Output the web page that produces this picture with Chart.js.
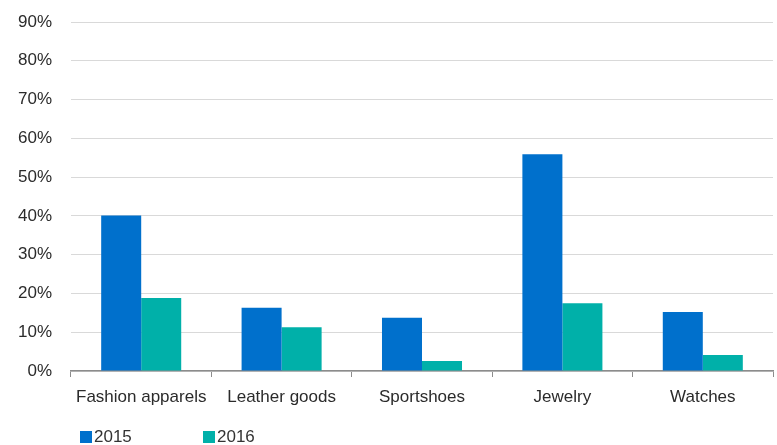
<!DOCTYPE html>
<html>
<head>
<meta charset="utf-8">
<script src="https://cdn.jsdelivr.net/npm/chart.js@4/dist/chart.umd.min.js"></script>
<style>
  html, body { margin: 0; padding: 0; background: #fff; }
  #wrap { position: relative; width: 777px; height: 445px; }
  #legend { position: absolute; left: 80px; top: 428px; font: 17px "Liberation Sans", Arial, sans-serif; color: #333; }
  #legend span.item { position: absolute; white-space: nowrap; line-height: 17px; }
  #legend i { display: inline-block; width: 12px; height: 12px; margin-right: 2px; vertical-align: -1px; }
</style>
</head>
<body>
<div id="wrap">
  <canvas id="chart" width="777" height="445"></canvas>
  <div id="legend"></div>
</div>
<script>
const categories = ["Fashion apparels", "Leather goods", "Sportshoes", "Jewelry", "Watches"];
const seriesNames = ["2015", "2016"];
const values2015 = [40.1, 16.3, 13.7, 55.9, 15.2];
const values2016 = [18.8, 11.3, 2.6, 17.5, 4.1];
const yTicks = [0, 10, 20, 30, 40, 50, 60, 70, 80, 90];
const colors = ["#0070CC", "#00B0A9"];

const font = { family: '"Liberation Sans", Arial, sans-serif', size: 17 };

const ctx = document.getElementById('chart').getContext("2d");
const chart = new Chart(ctx, {
    type: 'bar',
    data: {
        labels: categories,
        datasets: [
            { label: seriesNames[0], data: values2015, backgroundColor: colors[0] },
            { label: seriesNames[1], data: values2016, backgroundColor: colors[1] }
        ]
    },
    options: {
        responsive: false,
        animation: false,
        layout: { padding: { top: 22, right: 4, left: 0, bottom: 0 } },
        datasets: { bar: { categoryPercentage: 0.57, barPercentage: 1.0, borderWidth: 0 } },
        plugins: {
            legend: { display: false },
            tooltip: { enabled: false }
        },
        scales: {
            x: {
                grid: { drawOnChartArea: false, drawTicks: true, tickLength: 6, color: "#8c8c8c", offset: true },
                border: { color: "#8c8c8c", width: 1.5 },
                ticks: { font: font, color: "#2b2b2b", padding: 10, maxRotation: 0 },
                afterFit: s => { s.height = 74; }
            },
            y: {
                min: 0,
                max: 90,
                afterBuildTicks: s => { s.ticks = yTicks.map(v => ({ value: v })); },
                grid: { color: "#d9d9d9", lineWidth: 1, drawTicks: false },
                border: { display: false },
                ticks: { font: font, color: "#2b2b2b", padding: 19, callback: v => v + "%" },
                afterFit: s => { s.width = 71; s.paddingTop = 0; s.paddingBottom = 0; }
            }
        }
    }
});

// legend placed like the original, left aligned under the axis
const legend = document.getElementById("legend");
const legendX = [0, 123];
seriesNames.forEach((name, i) => {
    const item = document.createElement("span");
    item.className = "item";
    item.style.left = legendX[i] + "px";
    item.innerHTML = '<i style="background:' + colors[i] + '"></i>' + name;
    legend.appendChild(item);
});
</script>
</body>
</html>
